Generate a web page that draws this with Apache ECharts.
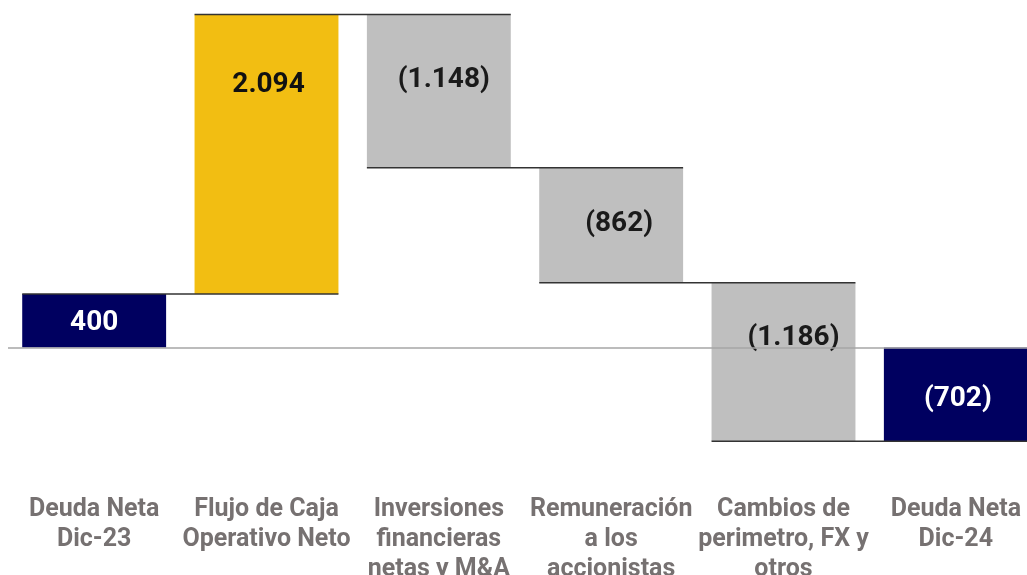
<!DOCTYPE html>
<html><head><meta charset="utf-8">
<script src="https://cdn.jsdelivr.net/npm/echarts@6/dist/echarts.min.js"></script>
<style>html,body{margin:0;padding:0;background:#fff;overflow:hidden;}#c{width:1042px;height:585px;}</style>
</head><body><div id="c"></div>
<script>
var categories = ['Deuda Neta\nDic-23', 'Flujo de Caja\nOperativo Neto', 'Inversiones\nfinancieras\nnetas y M&A', 'Remuneración\na los\naccionistas', 'Cambios de\nperimetro, FX y\notros', 'Deuda Neta\nDic-24'];
var amounts = [400, 2094, -1148, -862, -1186, -702];
var isTotal = [true, false, false, false, false, true];
var valueLabels = ['400', '2.094', '(1.148)', '(862)', '(1.186)', '(702)'];

var barColors = ['#000060', '#F2BE12', '#BFBFBF', '#BFBFBF', '#BFBFBF', '#000060'];
var labelColors = ['#ffffff', '#111111', '#1a1a1a', '#1a1a1a', '#1a1a1a', '#ffffff'];
var labelDy = [29, 71, 66, 56, 55, 52];
var labelDx = [0, 2, 5, 8, 10, 2];

// build waterfall ranges from the amounts
var barData = [];
var connData = [];
var cum = 0;
for (var i = 0; i < amounts.length; i++) {
  var lo, hi;
  if (isTotal[i]) {
    lo = Math.min(0, amounts[i]); hi = Math.max(0, amounts[i]);
    cum = amounts[i];
  } else {
    var next = cum + amounts[i];
    lo = Math.min(cum, next); hi = Math.max(cum, next);
    cum = next;
  }
  barData.push([i, lo, hi]);
  if (i < amounts.length - 1) connData.push([i, cum]);
}

var chart = echarts.init(document.getElementById('c'), null, {renderer: 'canvas', width: 1042, height: 585});
var BW = 0.835;
chart.setOption({
  animation: false,
  backgroundColor: '#ffffff',
  grid: {left: 8, right: 0, top: 13.6, height: 471.1, containLabel: false},
  xAxis: {
    type: 'category', data: categories,
    axisLine: {show: false}, axisTick: {show: false},
    axisLabel: {interval: 0, fontFamily: 'Roboto', fontWeight: 'bold', fontSize: 25, lineHeight: 30, color: '#767171', margin: 14}
  },
  yAxis: {type: 'value', min: -1000, max: 2500, show: false, splitLine: {show: false}},
  series: [
    {
      type: 'custom',
      data: barData,
      z: 2,
      renderItem: function (params, api) {
        var idx = api.value(0);
        var pLo = api.coord([idx, api.value(1)]);
        var pHi = api.coord([idx, api.value(2)]);
        var w = api.size([1, 0])[0] * BW;
        return {
          type: 'group',
          children: [
            {type: 'rect', shape: {x: pHi[0] - w / 2, y: pHi[1], width: w, height: pLo[1] - pHi[1]},
             style: {fill: barColors[idx]}},
            {type: 'text', x: pHi[0] + labelDx[idx], y: pHi[1] + labelDy[idx],
             style: {text: valueLabels[idx], fill: labelColors[idx], font: 'bold 28px Roboto', align: 'center', verticalAlign: 'middle'}}
          ]
        };
      }
    },
    {
      type: 'custom',
      data: connData,
      z: 3,
      renderItem: function (params, api) {
        var idx = api.value(0);
        var a = api.coord([idx, api.value(1)]);
        var b = api.coord([idx + 1, api.value(1)]);
        var w = api.size([1, 0])[0] * BW;
        return {type: 'line', shape: {x1: a[0] - w / 2, y1: a[1], x2: b[0] + w / 2, y2: b[1]},
                style: {stroke: '#333333', lineWidth: 1.5}};
      },
      markLine: {
        silent: true, symbol: 'none', label: {show: false},
        lineStyle: {color: '#A6A6A6', width: 1.5, type: 'solid'},
        data: [{yAxis: 0}]
      }
    }
  ]
});
</script></body></html>
